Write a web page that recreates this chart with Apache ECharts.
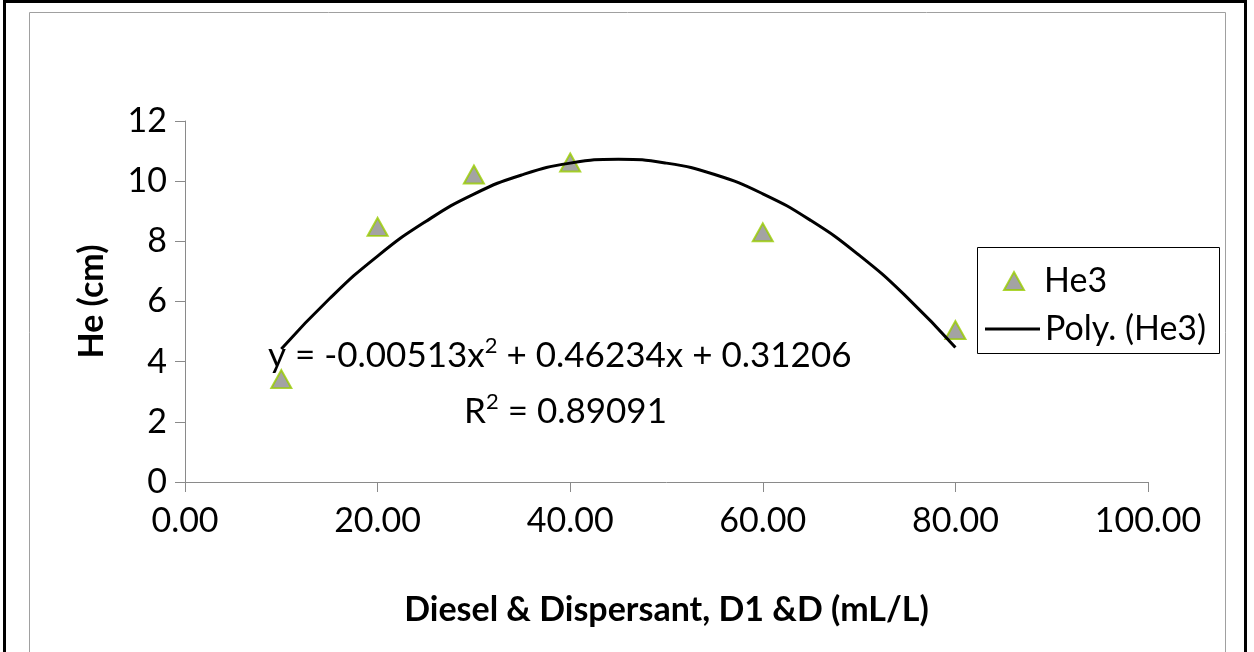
<!DOCTYPE html>
<html>
<head>
<meta charset="utf-8">
<script src="https://cdn.jsdelivr.net/npm/echarts@6/dist/echarts.min.js"></script>
<style>
  html, body { margin: 0; padding: 0; background: #fff; }
  #main { width: 1254px; height: 652px; }
</style>
</head>
<body>
<div id="main"></div>
<script>
var dosage = [10, 20, 30, 40, 60, 80];
var he3 = [3.42, 8.48, 10.22, 10.62, 8.3, 5.05];

// trendline values
var trendX = [10, 15, 20, 25, 30, 35, 40, 45, 50, 55, 60, 65, 70, 75, 80];
var trendY = [4.42, 6.09, 7.51, 8.66, 9.57, 10.21, 10.6, 10.73, 10.6, 10.22, 9.58, 8.69, 7.54, 6.13, 4.47];

var xTicks = [0, 20, 40, 60, 80, 100];
var yTicks = [0, 2, 4, 6, 8, 10, 12];

var chart = echarts.init(document.getElementById('main'), null, { renderer: 'canvas' });

var font = 'Lato, "Liberation Sans", sans-serif';
var axisGray = '#8a8a8a';
var markerStyle = { color: '#8c8c8c', borderColor: '#99cc00', borderWidth: 2 };

var option = {
  backgroundColor: '#fff',
  textStyle: { fontFamily: font },
  animation: false,
  grid: {
    left: 185,
    right: 106,
    top: 121,
    bottom: 170
  },
  legend: [
    {
      left: 1003,
      top: 261,
      padding: 0,
      itemWidth: 20,
      itemHeight: 18,
      textStyle: { fontSize: 34, lineHeight: 40, color: '#000', fontFamily: font, padding: [0, 0, 0, 15] },
      data: [{ name: 'He3', icon: 'triangle', itemStyle: markerStyle }]
    },
    {
      left: 985,
      top: 309,
      padding: 0,
      itemWidth: 55,
      itemHeight: 3,
      textStyle: { fontSize: 34, lineHeight: 40, color: '#000', fontFamily: font },
      data: [{ name: 'Poly. (He3)', icon: 'rect', itemStyle: { color: '#000', borderWidth: 0 } }]
    }
  ],
  xAxis: {
    type: 'value',
    min: xTicks[0],
    max: xTicks[xTicks.length - 1],
    interval: 20,
    name: 'Diesel & Dispersant, D1 &D (mL/L)',
    nameLocation: 'middle',
    nameGap: 111,
    nameTextStyle: { fontSize: 34, fontWeight: 'bold', color: '#000', fontFamily: font },
    axisLine: { lineStyle: { color: axisGray, width: 1 } },
    axisTick: { show: true, length: 10, lineStyle: { color: axisGray } },
    axisLabel: {
      fontSize: 34, color: '#000', margin: 22,
      formatter: function (v) { return v.toFixed(2); }
    },
    splitLine: { show: false }
  },
  yAxis: {
    type: 'value',
    min: yTicks[0],
    max: yTicks[yTicks.length - 1],
    interval: 2,
    name: 'He (cm)',
    nameLocation: 'middle',
    nameGap: 76,
    nameTextStyle: { fontSize: 34, fontWeight: 'bold', color: '#000', fontFamily: font },
    axisLine: { show: true, lineStyle: { color: axisGray, width: 1 } },
    axisTick: { show: true, length: 10, lineStyle: { color: axisGray } },
    axisLabel: { fontSize: 34, color: '#000', margin: 18 },
    splitLine: { show: false }
  },
  series: [
    {
      name: 'He3',
      type: 'scatter',
      symbol: 'triangle',
      symbolSize: [20, 18],
      itemStyle: markerStyle,
      data: dosage.map(function (x, i) { return [x, he3[i]]; }),
      z: 2
    },
    {
      name: 'Poly. (He3)',
      type: 'line',
      smooth: true,
      symbol: 'none',
      showSymbol: false,
      lineStyle: { color: '#000', width: 3 },
      itemStyle: { color: '#000' },
      data: trendX.map(function (x, i) { return [x, trendY[i]]; }),
      z: 3
    }
  ],
  graphic: [
    {
      type: 'rect',
      shape: { x: 4.5, y: 1.5, width: 1241, height: 700 },
      style: { fill: 'none', stroke: '#000', lineWidth: 3 },
      silent: true, z: -1
    },
    {
      type: 'rect',
      shape: { x: 29.5, y: 12.5, width: 1196, height: 700 },
      style: { fill: 'none', stroke: '#a0a0a0', lineWidth: 1 },
      silent: true, z: -1
    },
    {
      type: 'rect',
      shape: { x: 977.5, y: 247.5, width: 242, height: 106 },
      style: { fill: 'none', stroke: '#000', lineWidth: 1 },
      silent: true, z: 1
    },
    {
      type: 'text',
      z: 10,
      style: {
        x: 268, y: 356,
        verticalAlign: 'middle',
        text: '{a|y = -0.00513x}{s|2}{a| + 0.46234x + 0.31206}',
        rich: {
          a: { fontSize: 35, fontFamily: font, fill: '#000', lineHeight: 42 },
          s: { fontSize: 22, fontFamily: font, fill: '#000', lineHeight: 22, verticalAlign: 'top' }
        }
      }
    },
    {
      type: 'text',
      z: 10,
      style: {
        x: 464, y: 412,
        verticalAlign: 'middle',
        text: '{a|R}{s|2}{a| = 0.89091}',
        rich: {
          a: { fontSize: 35, fontFamily: font, fill: '#000', lineHeight: 42 },
          s: { fontSize: 22, fontFamily: font, fill: '#000', lineHeight: 22, verticalAlign: 'top' }
        }
      }
    }
  ]
};

chart.setOption(option);
</script>
</body>
</html>
